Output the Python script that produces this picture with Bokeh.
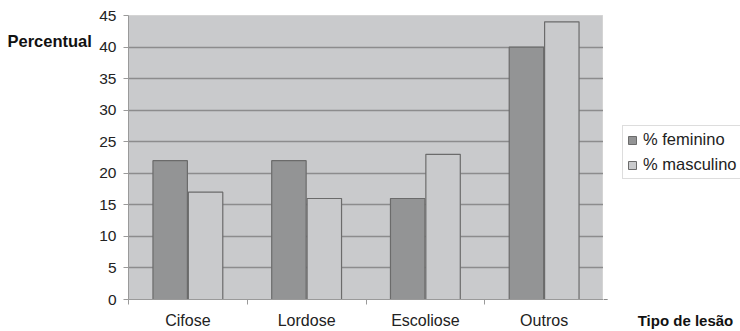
from bokeh.plotting import figure
from bokeh.layouts import row
from bokeh.models import (ColumnDataSource, FixedTicker, Range1d, Label, Legend, LegendItem,
                          LinearAxis)
from bokeh.embed import file_html
from bokeh.resources import INLINE

categories = ["Cifose", "Lordose", "Escoliose", "Outros"]
feminino = [22, 22, 16, 40]
masculino = [17, 16, 23, 44]
series_names = ["% feminino", "% masculino"]
y_ticks = [0, 5, 10, 15, 20, 25, 30, 35, 40, 45]
y_title = "Percentual"
x_title = "Tipo de lesão"

FONT = "Liberation Sans"
FEM_COLOR = "#939495"
MAS_COLOR = "#c9cacc"
EDGE = "#6b6b6b"
H = 331
TOP, BOTTOM = 15, 32
LEFT_W, RIGHT_W = 96, 137
MAIN_W = 740 - LEFT_W - RIGHT_W

bw = 0.29
centers = [i + 0.5 for i in range(len(categories))]

src = ColumnDataSource(dict(
    xf=[c - bw / 2 - 0.004 for c in centers],
    xm=[c + bw / 2 + 0.004 for c in centers],
    fem=feminino, mas=masculino))


def style_xaxis(ax, size, standoff, bold=False):
    ax.major_tick_line_color = None
    ax.major_tick_out = 0
    ax.major_tick_in = 0
    ax.minor_tick_in = 0
    ax.minor_tick_out = 5
    ax.major_label_text_font = FONT
    ax.major_label_text_font_size = size
    ax.major_label_text_color = "#111111" if bold else "#222222"
    if bold:
        ax.major_label_text_font_style = "bold"
    ax.major_label_standoff = standoff


def blank(w):
    f = figure(width=w, height=H, output_backend="svg", toolbar_location=None,
               x_range=Range1d(0, w), y_range=Range1d(BOTTOM, H - TOP),
               x_axis_location=None, y_axis_location=None,
               min_border_left=0, min_border_right=0,
               min_border_top=TOP, min_border_bottom=BOTTOM)
    f.grid.grid_line_color = None
    f.outline_line_color = None
    f.background_fill_color = "white"
    f.border_fill_color = "white"
    return f


# ---- main chart ----
p = figure(width=MAIN_W, height=H, output_backend="svg", toolbar_location=None,
           x_range=Range1d(0, len(categories)), y_range=Range1d(0, 45),
           min_border_left=30, min_border_right=0, min_border_top=TOP, min_border_bottom=BOTTOM)
p.border_fill_color = "white"
p.background_fill_color = "#c9cacc"
p.outline_line_color = "#d4d4d4"

p.xgrid.grid_line_color = None
p.ygrid.grid_line_color = "#8c8c8d"
p.ygrid.grid_line_width = 1.4
p.ygrid.ticker = FixedTicker(ticks=y_ticks)

p.vbar(x="xf", top="fem", width=bw, source=src, fill_color=FEM_COLOR,
       line_color=EDGE, line_width=1.2)
p.vbar(x="xm", top="mas", width=bw, source=src, fill_color=MAS_COLOR,
       line_color=EDGE, line_width=1.2)

xa = p.xaxis[0]
xa.ticker = FixedTicker(ticks=centers, minor_ticks=list(range(len(categories) + 1)))
xa.major_label_overrides = {c: n for c, n in zip(centers, categories)}
style_xaxis(xa, "16px", 7)
xa.minor_tick_line_color = "#9a9a9a"
xa.axis_line_color = "#9a9a9a"

ya = p.yaxis[0]
ya.ticker = FixedTicker(ticks=y_ticks)
ya.major_tick_out = 5
ya.major_tick_in = 0
ya.minor_tick_line_color = None
ya.major_tick_line_color = "#9a9a9a"
ya.axis_line_color = "#9a9a9a"
ya.major_label_text_font = FONT
ya.major_label_text_font_size = "15.5px"
ya.major_label_text_color = "#222222"
ya.major_label_standoff = 7

# ---- left strip: y title ----
pl = blank(LEFT_W)
pl.add_layout(Label(x=7, y=H - 40, text=y_title, text_font=FONT, text_font_size="16.5px",
                    text_font_style="bold", text_color="#111111",
                    text_baseline="alphabetic"))

# ---- right strip: legend + x title ----
pr = blank(RIGHT_W)
pr.extra_y_ranges = {"hidden": Range1d(1000, 2000)}
g1 = pr.vbar(x="xf", top="fem", width=bw, source=src, fill_color=FEM_COLOR,
             line_color=EDGE, line_width=1, y_range_name="hidden")
g2 = pr.vbar(x="xm", top="mas", width=bw, source=src, fill_color=MAS_COLOR,
             line_color=EDGE, line_width=1, y_range_name="hidden")
legend = Legend(items=[LegendItem(label=series_names[0], renderers=[g1]),
                       LegendItem(label=series_names[1], renderers=[g2])],
                location=(19, (H - BOTTOM) - 179))
legend.border_line_color = "#bbbbbb"
legend.border_line_width = 1
legend.background_fill_color = "white"
legend.label_text_font = FONT
legend.label_text_font_size = "16.5px"
legend.label_text_color = "#222222"
legend.glyph_width = 10
legend.glyph_height = 10
legend.spacing = 6
legend.padding = 4
legend.margin = 0
legend.label_standoff = 6
legend.label_height = 17
pr.add_layout(legend)

x_title_center = 82
tax = LinearAxis(ticker=FixedTicker(ticks=[x_title_center], minor_ticks=[]),
                 major_label_overrides={x_title_center: x_title})
style_xaxis(tax, "15px", 12, bold=True)
tax.axis_line_color = None
tax.minor_tick_line_color = None
pr.add_layout(tax, "below")

layout = row(pl, p, pr, spacing=0)
open("out.html", "w").write(file_html(layout, INLINE))
